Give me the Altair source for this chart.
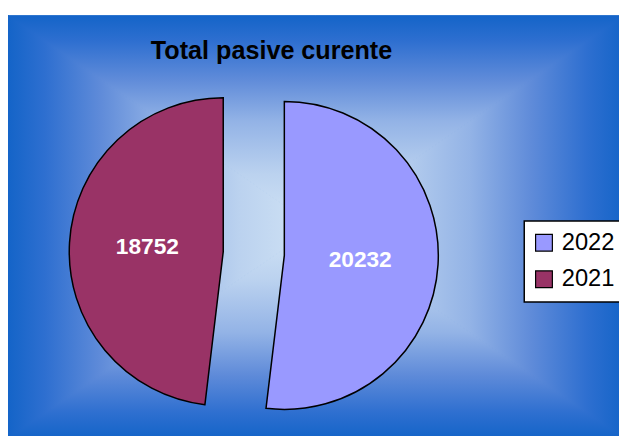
import altair as alt
import pandas as pd

# ---- data ----
years = ["2022", "2021"]
values = [20232, 18752]
colors = ["#9999FF", "#993366"]
title_text = "Total pasive curente"

# ---- layout constants ----
W, H = 619, 428
BG_TOP = 5
BG_BOT = H + 5
BG_RIGHT = W + 5
BG_CY = (BG_TOP + BG_BOT) / 2
BG_CX = BG_RIGHT / 2
CX, CY = 249, 246
R = 156
EXPLODE = 31
LABEL_R = 77

DARK = "#1464C8"
stops = [
    alt.GradientStop(offset=0.0, color=DARK),
    alt.GradientStop(offset=0.12, color="#2E6FD0"),
    alt.GradientStop(offset=0.3, color="#5F8BD9"),
    alt.GradientStop(offset=0.5, color="#93B3E6"),
    alt.GradientStop(offset=0.75, color="#BBD2EF"),
    alt.GradientStop(offset=1.0, color="#D2E4F5"),
]

def grad(x1, y1, x2, y2):
    return alt.Gradient(gradient="linear", stops=stops, x1=x1, y1=y1, x2=x2, y2=y2)

one = pd.DataFrame({"a": [0]})

base_rect = alt.Chart(one).mark_rect(fill=DARK).encode(
    x=alt.value(0), x2=alt.value(BG_RIGHT + 10), y=alt.value(BG_TOP), y2=alt.value(BG_BOT + 10)
)

def tri_v(ys, y2s, g):
    return alt.Chart(pd.DataFrame({"x": [0, BG_CX, BG_RIGHT], "y": ys, "y2": y2s})).mark_area(
        fill=g, stroke=g, strokeWidth=1
    ).encode(x=alt.X("x:Q", scale=None), y=alt.Y("y:Q", scale=None), y2="y2:Q")

def tri_h(xs, x2s, g):
    return alt.Chart(pd.DataFrame({"y": [BG_TOP, BG_CY, BG_BOT], "x": xs, "x2": x2s})).mark_area(
        orient="horizontal", fill=g, stroke=g, strokeWidth=1
    ).encode(y=alt.Y("y:Q", scale=None), x=alt.X("x:Q", scale=None), x2="x2:Q")

top_tri = tri_v([BG_TOP] * 3, [BG_TOP, BG_CY, BG_TOP], grad(0, 0, 0, 1))
bot_tri = tri_v([BG_BOT] * 3, [BG_BOT, BG_CY, BG_BOT], grad(0, 1, 0, 0))
left_tri = tri_h([0, 0, 0], [0, BG_CX, 0], grad(0, 0, 1, 0))
right_tri = tri_h([BG_RIGHT] * 3, [BG_RIGHT, BG_CX, BG_RIGHT], grad(1, 0, 0, 0))

legend_box = alt.Chart(one).mark_rect(fill="white", stroke="black", strokeWidth=1.5).encode(
    x=alt.value(523), x2=alt.value(W + 20), y=alt.value(213), y2=alt.value(295)
)

data = pd.DataFrame({"year": years, "value": values, "idx": list(range(len(years)))})

pie = alt.Chart(data).transform_window(
    cum="sum(value)", sort=[alt.SortField("idx")], frame=[None, 0]
).transform_joinaggregate(
    total="sum(value)"
).transform_calculate(
    mid="2*PI*(datum.cum - datum.value/2)/datum.total"
).transform_calculate(
    px=f"{CX} + {EXPLODE}*sin(datum.mid)",
    py=f"{CY} - {EXPLODE}*cos(datum.mid)",
).transform_calculate(
    lx=f"datum.px + {LABEL_R}*sin(datum.mid)",
    ly=f"datum.py - {LABEL_R}*cos(datum.mid)",
)

arcs = pie.mark_arc(radius=R, stroke="black", strokeWidth=1.5).encode(
    theta=alt.Theta("value:Q", stack=True),
    order=alt.Order("idx:Q"),
    x=alt.X("px:Q", scale=None),
    y=alt.Y("py:Q", scale=None),
    color=alt.Color(
        "year:N",
        scale=alt.Scale(domain=years, range=colors),
        legend=alt.Legend(
            orient="none", legendX=531, legendY=223, title=None,
            symbolType="square", symbolSize=289, symbolStrokeColor="black",
            symbolStrokeWidth=1.2, symbolOpacity=1,
            labelFont="Liberation Sans", labelFontSize=24, labelColor="black",
            labelOffset=6, rowPadding=13, padding=0,
        ),
    ),
)

labels = pie.mark_text(
    font="Liberation Sans", fontSize=23, fontWeight="bold", color="white",
    align="center", baseline="middle",
).encode(
    x=alt.X("lx:Q", scale=None),
    y=alt.Y("ly:Q", scale=None),
    text=alt.Text("value:Q", format="d"),
)

title = alt.Chart(one).mark_text(
    text=title_text, font="Liberation Sans", fontSize=25.5, fontWeight="bold",
    color="black", align="center", baseline="alphabetic",
).encode(x=alt.value(267), y=alt.value(49))

chart = alt.layer(
    base_rect, top_tri, bot_tri, left_tri, right_tri, legend_box, arcs, labels, title
).properties(
    width=W, height=H, padding=0, autosize="none", background="white"
).configure_view(stroke=None)

chart.save("out.html", embed_options={"renderer": "svg", "actions": False})
